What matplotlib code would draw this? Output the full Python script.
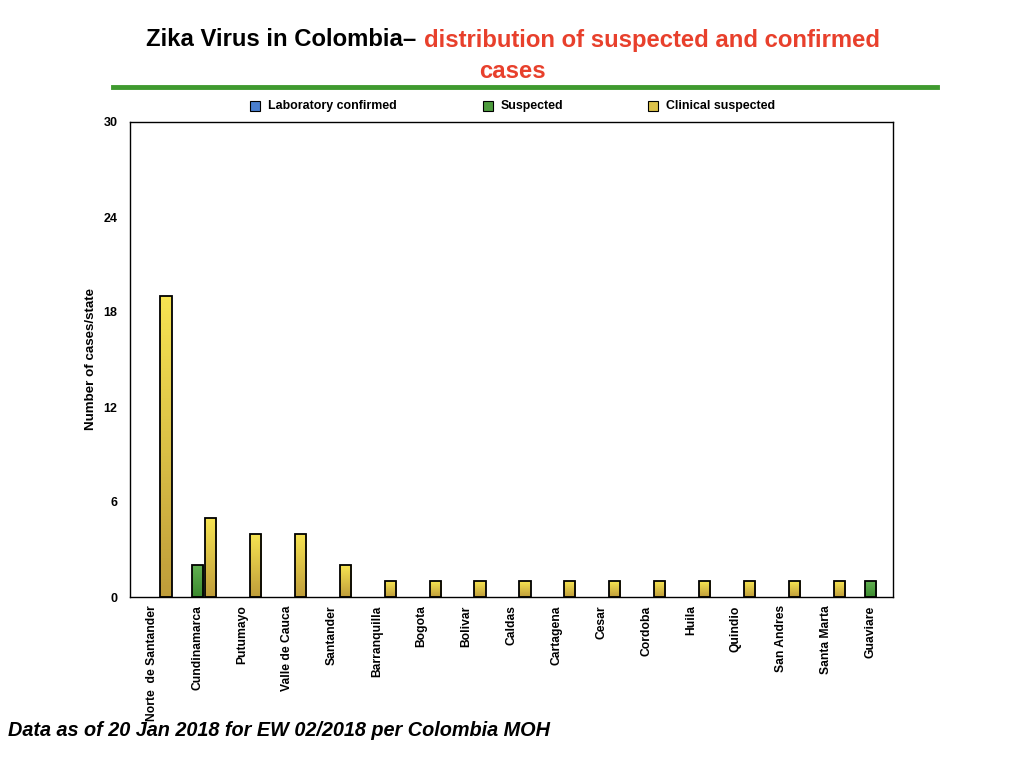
import matplotlib
matplotlib.use("Agg")
import matplotlib.pyplot as plt
import numpy as np
from matplotlib.colors import LinearSegmentedColormap
from matplotlib.lines import Line2D

plt.rcParams["font.family"] = ["Liberation Sans", "DejaVu Sans"]
plt.rcParams["font.weight"] = "bold"

states = [
    "Norte  de Santander", "Cundinamarca", "Putumayo", "Valle de Cauca",
    "Santander", "Barranquilla", "Bogota", "Bolivar", "Caldas", "Cartagena",
    "Cesar", "Cordoba", "Huila", "Quindio", "San Andres", "Santa Marta",
    "Guaviare",
]
lab_confirmed = [0] * 17
suspected = [0, 2, 0, 0, 0, 0, 0, 0, 0, 0, 0, 0, 0, 0, 0, 0, 1]
clinical = [19, 5, 4, 4, 2, 1, 1, 1, 1, 1, 1, 1, 1, 1, 1, 1, 0]

series = [
    ("Laboratory confirmed", lab_confirmed, ("#8ab0e6", "#3f70c4"), "#4a7fd0"),
    ("Suspected", suspected, ("#62b052", "#3b8a2e"), "#4e9c3e"),
    ("Clinical suspected", clinical, ("#f7e452", "#bf9d3a"), "#dcc24a"),
]

fig = plt.figure(figsize=(10.24, 7.68), dpi=100)
ax = fig.add_axes([130 / 1024, 1 - 597 / 768, 763 / 1024, 475 / 768])

x = np.arange(len(states))
width = 0.25
offsets = [-0.3, 0.0, 0.3]
grad = np.linspace(0, 1, 100).reshape(-1, 1)

for (name, vals, (top, bottom), _), off in zip(series, offsets):
    cmap = LinearSegmentedColormap.from_list(name, [bottom, top])
    vals = np.array(vals, dtype=float)
    keep = vals > 0
    if not keep.any():
        continue
    bars = ax.bar(x[keep] + off, vals[keep], width, facecolor="none",
                  edgecolor="black", linewidth=1.3, zorder=3)
    for b in bars:
        bx, by = b.get_x(), b.get_y()
        im = ax.imshow(grad, cmap=cmap, origin="lower", aspect="auto",
                       extent=[bx, bx + b.get_width(), by, by + b.get_height()],
                       zorder=2)
        im.set_clip_path(b)

ax.set_xlim(-0.5, len(states) - 0.5)
ax.set_ylim(0, 30)
ax.set_yticks([0, 6, 12, 18, 24, 30])
ax.set_xticks(x)
ax.set_xticklabels(states, rotation=90, va="top", ha="center")
ax.tick_params(axis="both", length=0, labelsize=8.7)
ax.tick_params(axis="x", pad=6)
ax.tick_params(axis="y", pad=9, labelsize=9)
for s in ax.spines.values():
    s.set_linewidth(1.0)
ax.set_ylabel("Number of cases/state", fontsize=9.6, fontweight="bold", labelpad=5)

# legend
leg_x = [255, 488, 653]
for (name, _, _, mc), lx in zip(series, leg_x):
    fig.add_artist(Line2D([lx / 1024], [1 - 106 / 768], marker="s",
                          linestyle="none", markersize=6.5, markerfacecolor=mc,
                          markeredgecolor="black", markeredgewidth=0.8,
                          transform=fig.transFigure))
    fig.text((lx + 13) / 1024, 1 - 106 / 768, name, fontsize=8.9,
             fontweight="bold", ha="left", va="center")

# title
fig.text(416 / 1024, 1 - 40 / 768, "Zika Virus in Colombia\u2013", fontsize=17.2,
         fontweight="bold", color="black", ha="right", va="center")
fig.text(424 / 1024, 1 - 40 / 768, "distribution of suspected and confirmed",
         fontsize=17.2, fontweight="bold", color="#e8402c", ha="left", va="center")
fig.text(512 / 1024, 1 - 72 / 768, "cases", fontsize=17.2, fontweight="bold",
         color="#e8402c", ha="center", va="center")
fig.add_artist(Line2D([113 / 1024, 937 / 1024], [1 - 87 / 768, 1 - 87 / 768],
                      color="#3f9a2f", linewidth=3.5, transform=fig.transFigure))

fig.text(8 / 1024, 1 - 730 / 768, "Data as of 20 Jan 2018 for EW 02/2018 per Colombia MOH",
         fontsize=14.3, fontweight="bold", style="italic", ha="left", va="center")

fig.savefig("out.png", dpi=100)
